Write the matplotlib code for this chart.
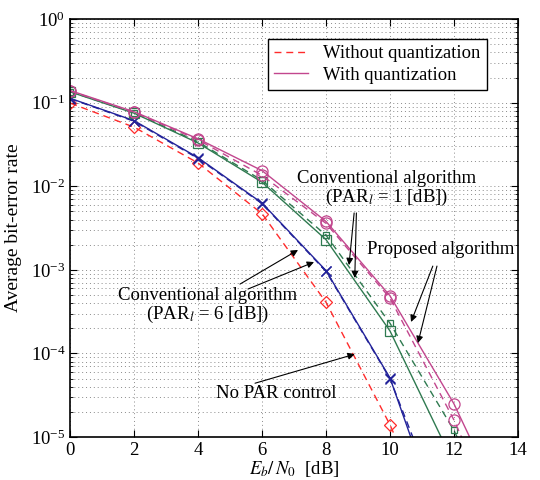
import matplotlib
matplotlib.use("Agg")
import matplotlib.pyplot as plt
from matplotlib.lines import Line2D
from matplotlib.ticker import LogLocator, NullFormatter, LogFormatterMathtext

plt.rcParams["font.family"] = ["Liberation Serif", "DejaVu Serif"]
plt.rcParams["mathtext.fontset"] = "stix"
plt.rcParams["font.size"] = 12.5

# Eb/N0 [dB]
snr = [0, 2, 4, 6, 8, 10, 12]
snr_ext = [0, 2, 4, 6, 8, 10, 12, 14]

# No PAR control (without quantization)
ber_nopar = [0.099, 0.051, 0.019, 0.0047, 4.1e-4, 1.4e-5, 2.5e-7]
# Conventional algorithm, PAR = 6 dB
ber_c6_noq = [0.112, 0.060, 0.0215, 0.0062, 9.6e-4, 5.0e-5, 5.5e-7]
ber_c6_q = [0.113, 0.061, 0.022, 0.0063, 9.8e-4, 5.1e-5, 3.4e-7]
# Conventional algorithm, PAR = 1 dB
ber_c1_noq = [0.136, 0.076, 0.034, 0.0118, 2.6e-3, 2.3e-4, 1.2e-5, 3e-7]
ber_c1_q = [0.135, 0.075, 0.033, 0.0112, 2.3e-3, 1.86e-4, 4.8e-6, 1e-7]
# Proposed algorithm
ber_pr_noq = [0.138, 0.077, 0.036, 0.0135, 3.6e-3, 4.6e-4, 1.6e-5, 3e-7]
ber_pr_q = [0.14, 0.078, 0.037, 0.0154, 3.8e-3, 4.9e-4, 2.5e-5, 6e-7]

RED = "#ff2b2b"
BLUE = "#23239a"
GREEN = "#2f7a50"
MAGENTA = "#c2468e"

fig = plt.figure(figsize=(5.4, 4.8), dpi=100)
ax = fig.add_axes([0.13, 0.0896, 0.829, 0.8704])

lw = 1.0
dash = (0, (5, 3.5))
ax.semilogy(snr, ber_nopar, color=RED, ls=dash, lw=lw, marker="D", ms=6.5, mfc="none", mew=0.9)
ax.semilogy(snr, ber_c6_noq, color=BLUE, ls=dash, lw=lw, marker="x", ms=7, mew=1.0)
ax.semilogy(snr, ber_c6_q, color=BLUE, ls="-", lw=lw, marker="x", ms=7, mew=1.0)
ax.semilogy(snr_ext, ber_c1_noq, color=GREEN, ls=dash, lw=lw, marker="s", ms=4, mfc="none", mew=0.9)
ax.semilogy(snr_ext, ber_c1_q, color=GREEN, ls="-", lw=lw, marker="s", ms=6.5, mfc="none", mew=0.9)
ax.semilogy(snr_ext, ber_pr_noq, color=MAGENTA, ls=dash, lw=lw, marker="o", ms=8, mfc="none", mew=0.9)
ax.semilogy(snr_ext, ber_pr_q, color=MAGENTA, ls="-", lw=lw, marker="o", ms=8, mfc="none", mew=0.9)

ax.set_xlim(0, 14)
ax.set_ylim(1e-5, 1)
ax.set_xticks(range(0, 15, 2))
ax.yaxis.set_major_locator(LogLocator(base=10, numticks=10))
ax.yaxis.set_major_formatter(LogFormatterMathtext())
ax.yaxis.set_minor_locator(LogLocator(base=10, subs=range(2, 10), numticks=20))
ax.yaxis.set_minor_formatter(NullFormatter())

ax.grid(True, which="major", ls=(0, (1, 3)), color="#8a8a8a", lw=0.7)
ax.grid(True, which="minor", axis="y", ls=(0, (1, 3)), color="#8a8a8a", lw=0.7)
ax.tick_params(which="both", direction="in", top=True, right=True, labelsize=13.5)
ax.tick_params(which="major", length=5)
ax.tick_params(which="minor", length=2.5)
for s in ax.spines.values():
    s.set_linewidth(1.2)

ax.set_xlabel(r"$E_b/\,N_0$  [dB]", fontsize=13.5, labelpad=0)
ax.set_ylabel("Average bit-error rate", fontsize=14, labelpad=6)

handles = [Line2D([], [], color=RED, ls=dash, lw=lw),
           Line2D([], [], color=MAGENTA, ls="-", lw=lw)]
leg = ax.legend(handles, ["Without quantization", "With quantization"],
                loc="upper right", bbox_to_anchor=(0.951, 0.976), fancybox=False,
                edgecolor="black", framealpha=1, handlelength=1.8, borderpad=0.35,
                labelspacing=0.25, fontsize=13.4)
leg.get_frame().set_linewidth(1.0)

arrow = dict(arrowstyle="-|>", color="black", lw=0.8, mutation_scale=10, shrinkA=0, shrinkB=0)

ax.text(9.9, 9.3e-3, "Conventional algorithm\n(PAR$_{\\mathit{l}}$ = 1 [dB])",
        ha="center", va="center", fontsize=13.5, linespacing=1.0)
ax.annotate("", xy=(8.72, 1.14e-3), xytext=(8.88, 4.8e-3), arrowprops=arrow)
ax.annotate("", xy=(8.9, 8.0e-4), xytext=(8.95, 4.8e-3), arrowprops=arrow)

ax.text(11.6, 1.73e-3, "Proposed algorithm", ha="center", va="center", fontsize=13.5)
ax.annotate("", xy=(10.66, 2.38e-4), xytext=(11.34, 1.11e-3), arrowprops=arrow)
ax.annotate("", xy=(10.875, 1.33e-4), xytext=(11.47, 1.11e-3), arrowprops=arrow)

ax.text(4.31, 3.69e-4, "Conventional algorithm\n(PAR$_{\\mathit{l}}$ = 6 [dB])",
        ha="center", va="center", fontsize=13.5, linespacing=1.0)
ax.annotate("", xy=(7.125, 1.73e-3), xytext=(5.31, 6.76e-4), arrowprops=arrow)
ax.annotate("", xy=(7.625, 1.24e-3), xytext=(5.56, 5.9e-4), arrowprops=arrow)

ax.text(6.44, 3.27e-5, "No PAR control", ha="center", va="center", fontsize=13.5)
ax.annotate("", xy=(8.9, 9.8e-5), xytext=(5.78, 4.4e-5), arrowprops=arrow)

fig.savefig("out.png", dpi=100)
